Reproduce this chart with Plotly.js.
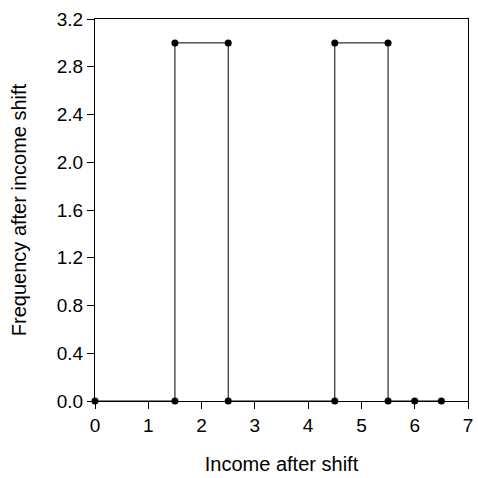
<!DOCTYPE html>
<html><head><meta charset="utf-8">
<script src="https://cdn.plot.ly/plotly-3.0.1.min.js"></script>
<style>html,body{margin:0;padding:0;background:#fff}#c{width:478px;height:478px}</style>
</head><body><div id="c"></div>
<script>
var incomeAfterShift = [0, 1.5, 1.5, 2.5, 2.5, 4.5, 4.5, 5.5, 5.5, 6, 6.5];
var frequencyAfterShift = [0, 0, 3, 3, 0, 0, 3, 3, 0, 0, 0];
var xTickVals = [0, 1, 2, 3, 4, 5, 6, 7];
var yTickVals = [0, 0.4, 0.8, 1.2, 1.6, 2.0, 2.4, 2.8, 3.2];
var yTickText = yTickVals.map(function(v){return v.toFixed(1);});

var trace = {
  x: incomeAfterShift, y: frequencyAfterShift,
  type: 'scatter', mode: 'lines+markers',
  line: {color: '#000', width: 1},
  marker: {color: '#000', size: 7},
  cliponaxis: false, showlegend: false, hoverinfo: 'none'
};
var fam = 'Liberation Sans, Arial, sans-serif';
var layout = {
  width: 478, height: 478,
  margin: {l: 95, r: 10, t: 19, b: 77},
  paper_bgcolor: '#fff', plot_bgcolor: '#fff',
  font: {family: fam, size: 19, color: '#000'},
  xaxis: {
    range: [0, 7], tickvals: xTickVals, ticktext: xTickVals.map(String),
    ticks: 'outside', ticklen: 7, tickcolor: '#000', tickwidth: 1,
    showgrid: false, zeroline: false, showline: true, linecolor: '#000', linewidth: 1, mirror: true,
    tickfont: {family: fam, size: 19, color: '#000'},
    automargin: false,
    title: {text: 'Income after shift', font: {family: fam, size: 20, color: '#000'}, standoff: 22}
  },
  yaxis: {
    range: [0, 3.2], tickvals: yTickVals, ticktext: yTickText,
    ticks: 'outside', ticklen: 7, tickcolor: '#000', tickwidth: 1,
    showgrid: false, zeroline: false, showline: true, linecolor: '#000', linewidth: 1, mirror: true,
    tickfont: {family: fam, size: 19, color: '#000'},
    automargin: false,
    title: {text: 'Frequency after income shift', font: {family: fam, size: 20, color: '#000'}, standoff: 24}
  }
};
Plotly.newPlot('c', [trace], layout, {staticPlot: true, displayModeBar: false});
</script></body></html>
